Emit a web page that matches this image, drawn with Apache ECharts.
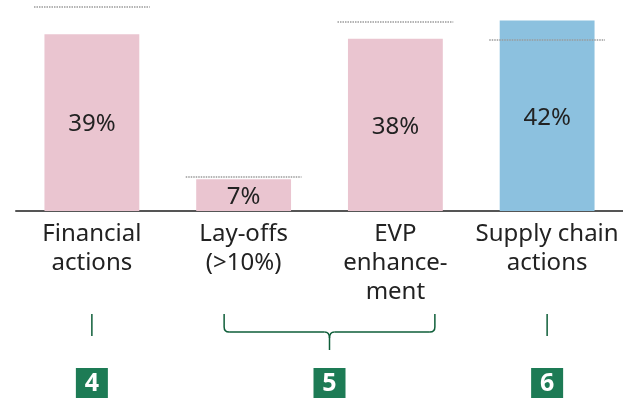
<!DOCTYPE html>
<html>
<head>
<meta charset="utf-8">
<script src="https://cdn.jsdelivr.net/npm/echarts@6/dist/echarts.min.js"></script>
<style>
  html, body { margin: 0; padding: 0; background: #fff; }
  #chart { width: 623px; height: 400px; }
</style>
</head>
<body>
<div id="chart"></div>
<script>
const categories = ['Financial\nactions', 'Lay-offs\n(>10%)', 'EVP\nenhance-\nment', 'Supply chain\nactions']
const values = [39, 7, 38, 42]
const prevValues = [45, 7.5, 41.7, 37.7]   // dotted reference lines
const barColors = ['#eac5d0', '#eac5d0', '#eac5d0', '#8cc1df']
// bracket groups below the labels: [first category, last category, badge]
const groups = [[0, 0, '4'], [1, 2, '5'], [3, 3, '6']]

const font = 'Noto Sans'
const chart = echarts.init(document.getElementById('chart'))

chart.setOption({
  animation: false,
  grid: {left: 16, width: 608, top: 7, height: 204},
  xAxis: {
    type: 'category',
    data: categories,
    axisLine: {lineStyle: {color: '#555', width: 2}},
    axisTick: {show: false},
    axisLabel: {
      color: '#222', fontFamily: font, fontSize: 24, lineHeight: 29,
      margin: 9, interval: 0
    }
  },
  yAxis: {type: 'value', min: 0, max: 45, show: false, splitLine: {show: false}},
  series: [
    {
      type: 'bar',
      barCategoryGap: '37.5%',
      data: values.map((v, i) => ({value: v, itemStyle: {color: barColors[i]}})),
      label: {
        show: true, position: 'inside', formatter: '{c}%', offset: [0, 2],
        color: '#222', fontFamily: font, fontSize: 24
      }
    },
    {
      type: 'custom',
      z: 5,
      data: prevValues.map((v, i) => [i, v]),
      renderItem: (params, api) => {
        const p = api.coord([api.value(0), api.value(1)])
        const w = api.size([1, 0])[0] * 0.763
        return {
          type: 'line',
          shape: {x1: p[0] - w / 2, y1: p[1], x2: p[0] + w / 2, y2: p[1]},
          style: {stroke: '#9a9a9a', lineWidth: 1.5, lineDash: [1.5, 1]}
        }
      }
    }
  ]
})

// brackets and numbered badges under the axis labels
const cx = i => chart.convertToPixel({xAxisIndex: 0}, i)
const green = '#0e5e39'
const stroke = {stroke: green, lineWidth: 1.5, fill: null}
const seg = (x1, y1, x2, y2) => ({type: 'line', shape: {x1, y1, x2, y2}, style: stroke})
const curve = (x1, y1, cpx1, cpy1, x2, y2) =>
  ({type: 'bezierCurve', shape: {x1, y1, cpx1, cpy1, x2, y2}, style: stroke})
const graphics = []
groups.forEach(([a, b, num]) => {
  let mid
  if (a === b) {
    mid = cx(a)
    graphics.push(seg(mid, 314, mid, 336))
  } else {
    const l = cx(a) - 19.5, r = cx(b) + 39.5
    mid = (l + r) / 2
    graphics.push(
      seg(l, 314, l, 327), curve(l, 327, l, 332, l + 5, 332),
      seg(l + 5, 332, mid - 5, 332), curve(mid - 5, 332, mid, 332, mid, 338),
      seg(r, 314, r, 327), curve(r, 327, r, 332, r - 5, 332),
      seg(r - 5, 332, mid + 5, 332), curve(mid + 5, 332, mid, 332, mid, 338),
      seg(mid, 338, mid, 350)
    )
  }
  graphics.push({
    type: 'rect', shape: {x: mid - 16, y: 368, width: 32, height: 30},
    style: {fill: '#1d7b55'}
  })
  graphics.push({
    type: 'text', x: mid, y: 384,
    style: {
      text: num, fill: '#fff', font: `bold 25px "${font}"`,
      align: 'center', verticalAlign: 'middle'
    }
  })
})
chart.setOption({graphic: graphics})
</script>
</body>
</html>
